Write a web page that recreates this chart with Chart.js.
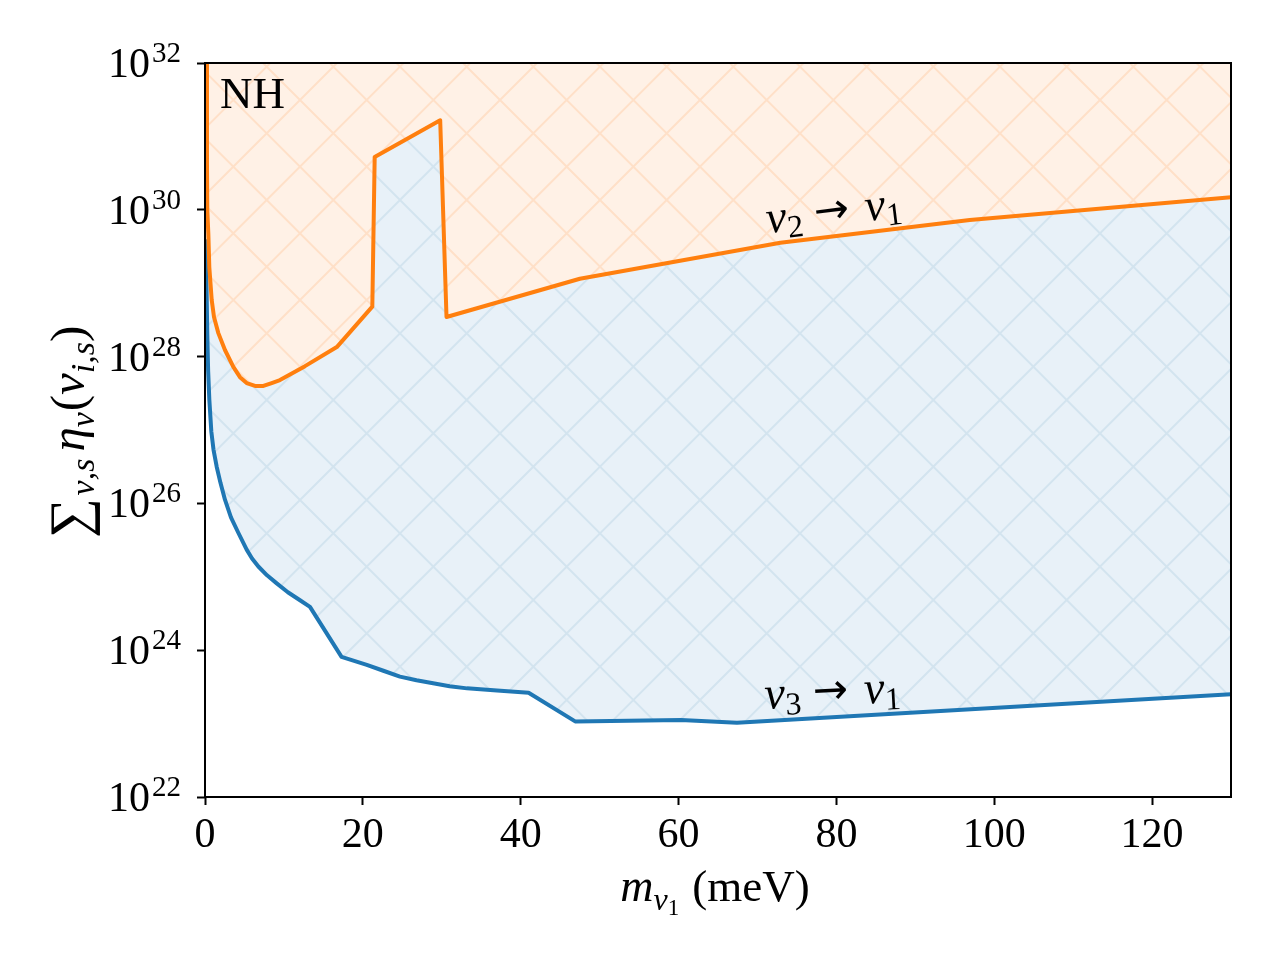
<!DOCTYPE html>
<html>
<head>
<meta charset="utf-8">
<script src="https://cdn.jsdelivr.net/npm/chart.js@4.4.1/dist/chart.umd.min.js"></script>
<style>
  html, body { margin: 0; padding: 0; background: #fff; }
  #wrap { width: 1280px; height: 960px; }
</style>
</head>
<body>
<div id="wrap"><canvas id="canvasNH" width="1280" height="960"></canvas></div>
<script>
// ticks
const massTicks = [0, 20, 40, 60, 80, 100, 120]
const etaTickExps = [22, 24, 26, 28, 30, 32]

// nu2 -> nu1 (orange), mass in meV, log10 of the sum
const nu21Mass = [0.18, 0.25, 0.29, 0.42, 0.545, 0.85, 1.14, 1.69, 2.53, 3.59, 4.43, 5.28, 6.34, 7.4, 8.45, 9.5, 12.67, 16.7, 21.2, 21.5, 29.8, 30.6, 47.5, 72.9, 96.9, 130]
const nu21LogEta = [32.1, 30.6, 30.0, 29.68, 29.22, 28.77, 28.54, 28.32, 28.09, 27.86, 27.72, 27.64, 27.6, 27.6, 27.64, 27.68, 27.87, 28.13, 28.68, 30.72, 31.22, 28.54, 29.06, 29.55, 29.86, 30.17]

// nu3 -> nu1 (blue)
const nu31Mass = [0.1, 0.2, 0.29, 0.4, 0.55, 0.8, 1.08, 1.48, 1.96, 2.53, 3.29, 4.22, 5.28, 5.96, 6.76, 7.86, 9.09, 10.5, 12.04, 13.3, 17.3, 20.5, 22.6, 24.7, 26.8, 28.9, 31.0, 33.2, 37.0, 41.0, 46.9, 60.3, 67.4, 130]
const nu31LogEta = [29.6, 28.9, 28.3, 27.8, 27.41, 26.98, 26.73, 26.5, 26.28, 26.05, 25.81, 25.6, 25.37, 25.25, 25.14, 25.02, 24.91, 24.79, 24.68, 24.59, 23.91, 23.8, 23.72, 23.64, 23.59, 23.55, 23.51, 23.48, 23.45, 23.42, 23.03, 23.05, 23.01, 23.4]

const orange = "#ff7f0e"
const blue = "#1f77b4"
const serif = "'Liberation Serif', 'DejaVu Serif', serif"

function toPoints(masses, logs) {
    return masses.map((m, i) => ({x: m, y: Math.pow(10, logs[i])}))
}

// hachures en x, ancrées sur l'origine du canvas
function makeHatch(bg, lineColor) {
    const size = 200
    const step = size / 3
    const c = document.createElement("canvas")
    c.width = size
    c.height = size
    const g = c.getContext("2d")
    g.fillStyle = bg
    g.fillRect(0, 0, size, size)
    g.strokeStyle = lineColor
    g.lineWidth = 2
    g.beginPath()
    for (let k = -6; k <= 12; k++) {
        let c0 = k * step
        g.moveTo(c0, 0); g.lineTo(c0 - size, size)
        g.moveTo(c0, 0); g.lineTo(c0 + size, size)
    }
    g.stroke()
    return g.createPattern(c, "repeat")
}

function fontOf(p) {
    return (p.italic ? "italic " : "") + p.size + "px " + (p.family || serif)
}

function drawRich(ctx, parts, x, y) {
    let cx = x
    for (let p of parts) {
        ctx.font = fontOf(p)
        ctx.fillText(p.text, cx, y + (p.dy || 0))
        cx += ctx.measureText(p.text).width + (p.after || 0)
    }
    return cx - x
}

function richWidth(ctx, parts) {
    let w = 0
    for (let p of parts) {
        ctx.font = fontOf(p)
        w += ctx.measureText(p.text).width + (p.after || 0)
    }
    return w
}

const arrowFont = "'DejaVu Sans', sans-serif"
const nu2Label = [
    {text: "ν", size: 46, italic: true},
    {text: "2", size: 32, dy: 7, after: 12},
    {text: "→", size: 42, family: arrowFont, dy: -2, after: 16},
    {text: "ν", size: 46, italic: true},
    {text: "1", size: 32, dy: 7}
]
const nu3Label = [
    {text: "ν", size: 46, italic: true},
    {text: "3", size: 32, dy: 7, after: 12},
    {text: "→", size: 42, family: arrowFont, dy: -2, after: 16},
    {text: "ν", size: 46, italic: true},
    {text: "1", size: 32, dy: 7}
]
const xLabel = [
    {text: "m", size: 46, italic: true},
    {text: "ν", size: 32, italic: true, dy: 9},
    {text: "1", size: 23, dy: 14, after: 13},
    {text: "(meV)", size: 45}
]
const yLabel = [
    {text: "∑", size: 56, dy: 4, after: 3},
    {text: "ν,s", size: 34, italic: true, dy: 10, after: 7},
    {text: "η", size: 49, italic: true},
    {text: "ν", size: 34, italic: true, dy: 10, after: 1},
    {text: "(", size: 49},
    {text: "ν", size: 49, italic: true},
    {text: "i,s", size: 34, italic: true, dy: 10},
    {text: ")", size: 49}
]

const decorPlugin = {
    id: "decor",
    afterDraw(chart) {
        const ctx = chart.ctx
        const area = chart.chartArea
        const xs = chart.scales.x
        const ys = chart.scales.y
        ctx.save()
        // cadre
        ctx.strokeStyle = "#000"
        ctx.lineWidth = 2
        ctx.strokeRect(area.left, area.top, area.right - area.left, area.bottom - area.top)

        ctx.fillStyle = "#000"
        ctx.textBaseline = "alphabetic"
        ctx.textAlign = "left"
        // labels axe y 10^n
        for (let e of etaTickExps) {
            let py = ys.getPixelForValue(Math.pow(10, e))
            ctx.font = "29px " + serif
            let wSup = ctx.measureText(String(e)).width
            ctx.font = "42px " + serif
            let wTen = ctx.measureText("10").width
            let right = area.left - 24
            ctx.fillText("10", right - wSup - 2 - wTen, py + 14)
            ctx.font = "29px " + serif
            ctx.fillText(String(e), right - wSup, py - 1)
        }

        // titre axe x
        let wx = richWidth(ctx, xLabel)
        drawRich(ctx, xLabel, (area.left + area.right) / 2 - wx / 2 - 3, 901)

        // titre axe y
        ctx.save()
        ctx.translate(84, (area.top + area.bottom) / 2 + 2)
        ctx.rotate(-Math.PI / 2)
        let wy = richWidth(ctx, yLabel)
        drawRich(ctx, yLabel, -wy / 2, 0)
        ctx.restore()

        // NH
        ctx.font = "45px " + serif
        ctx.fillText("NH", area.left + 15, 108)

        // étiquettes des courbes
        ctx.save()
        ctx.translate(xs.getPixelForValue(71.3), ys.getPixelForValue(Math.pow(10, 29.68)))
        ctx.rotate(-7 * Math.PI / 180)
        drawRich(ctx, nu2Label, 0, 0)
        ctx.restore()

        ctx.save()
        ctx.translate(xs.getPixelForValue(71.0), ys.getPixelForValue(Math.pow(10, 23.2)))
        ctx.rotate(-3 * Math.PI / 180)
        drawRich(ctx, nu3Label, 0, 0)
        ctx.restore()

        ctx.restore()
    }
}

const canvas = document.getElementById("canvasNH")

new Chart(canvas, {
    type: "line",
    data: {
        datasets: [
            {
                label: "ν2 → ν1",
                data: toPoints(nu21Mass, nu21LogEta),
                borderColor: orange,
                backgroundColor: makeHatch("#fff1e6", "#ffe0c8"),
                borderWidth: 4,
                pointRadius: 0,
                tension: 0,
                borderJoinStyle: "round",
                fill: "end"
            },
            {
                label: "ν3 → ν1",
                data: toPoints(nu31Mass, nu31LogEta),
                borderColor: blue,
                backgroundColor: makeHatch("#e8f1f8", "#d3e4ef"),
                borderWidth: 4,
                pointRadius: 0,
                tension: 0,
                borderJoinStyle: "round",
                fill: {target: 0}
            }
        ]
    },
    options: {
        responsive: false,
        animation: false,
        devicePixelRatio: 1,
        layout: { padding: { top: 63, right: 49, left: 0, bottom: 0 } },
        plugins: {
            legend: { display: false },
            tooltip: { enabled: false },
            filler: { drawTime: "beforeDatasetsDraw" }
        },
        scales: {
            x: {
                type: "linear",
                min: 0,
                max: 130,
                afterBuildTicks: (scale) => { scale.ticks = massTicks.map(v => ({value: v})) },
                afterFit: (scale) => { scale.height = 163 },
                border: { display: false },
                grid: { drawOnChartArea: false, drawTicks: true, tickLength: 8, tickWidth: 2, tickColor: "#000" },
                ticks: { color: "#000", padding: 6, maxRotation: 0, font: { family: serif, size: 42 } }
            },
            y: {
                type: "logarithmic",
                min: 1e22,
                max: 1e32,
                afterBuildTicks: (scale) => { scale.ticks = etaTickExps.map(e => ({value: Math.pow(10, e)})) },
                afterFit: (scale) => { scale.width = 205 },
                border: { display: false },
                grid: { drawOnChartArea: false, drawTicks: true, tickLength: 8, tickWidth: 2, tickColor: "#000" },
                ticks: { display: false }
            }
        }
    },
    plugins: [decorPlugin]
})
</script>
</body>
</html>
